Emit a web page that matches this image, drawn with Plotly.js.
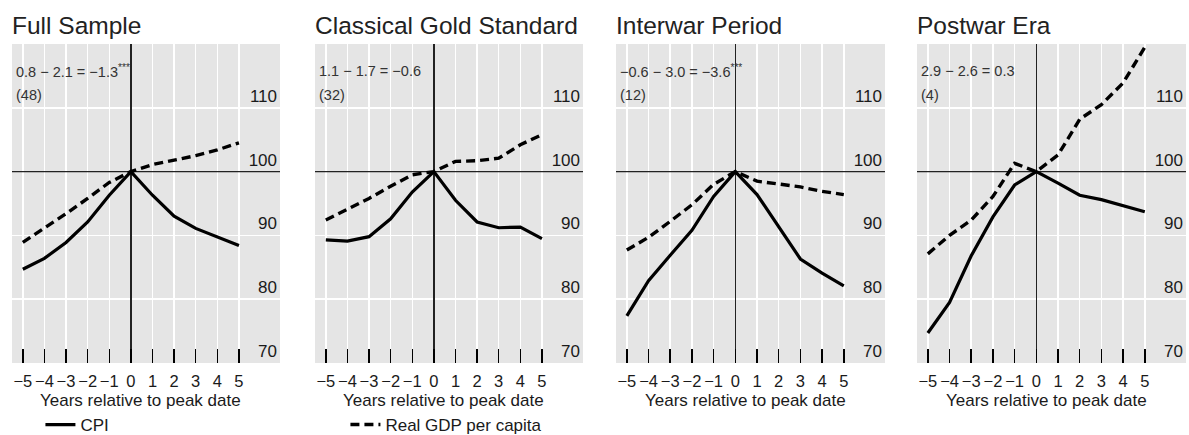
<!DOCTYPE html>
<html>
<head>
<meta charset="utf-8">
<script src="https://cdn.plot.ly/plotly-3.0.1.min.js"></script>
<style>html,body{margin:0;padding:0;background:#fff;}#chart{width:1189px;height:435px;}</style>
</head>
<body>
<div id="chart"></div>
<script>
// ---- data ----
const years = [-5, -4, -3, -2, -1, 0, 1, 2, 3, 4, 5];
const yearLabels = ["\u22125", "\u22124", "\u22123", "\u22122", "\u22121", "0", "1", "2", "3", "4", "5"];
const yTicks = [70, 80, 90, 100, 110];
const panelTitles = ["Full Sample", "Classical Gold Standard", "Interwar Period", "Postwar Era"];
const xAxisTitle = "Years relative to peak date";
const diffLabels = [
  "0.8 \u2212 2.1 = \u22121.3<sup>***</sup>",
  "1.1 \u2212 1.7 = \u22120.6",
  "\u22120.6 \u2212 3.0 = \u22123.6<sup>***</sup>",
  "2.9 \u2212 2.6 = 0.3"
];
const obsCounts = ["(48)", "(32)", "(12)", "(4)"];
const seriesNames = ["CPI", "Real GDP per capita"];

const cpiFull      = [84.7, 86.4, 88.9, 92.1, 96.3, 100, 96.3, 93.0, 91.1, 89.8, 88.4];
const gdpFull      = [88.9, 91.1, 93.4, 95.8, 98.3, 100, 101.1, 101.8, 102.5, 103.4, 104.5];
const cpiGold      = [89.3, 89.1, 89.8, 92.6, 96.8, 100, 95.5, 92.1, 91.2, 91.3, 89.5];
const gdpGold      = [92.4, 94.1, 95.8, 97.7, 99.5, 100, 101.6, 101.7, 102.1, 104.2, 105.8];
const cpiInterwar  = [77.4, 82.9, 86.9, 90.8, 96.1, 100, 96.4, 91.4, 86.3, 84.1, 82.1];
const gdpInterwar  = [87.7, 89.7, 92.2, 94.8, 98.0, 100, 98.5, 98.0, 97.6, 96.9, 96.4];
const cpiPostwar   = [74.7, 79.5, 86.8, 92.9, 97.9, 100, 98.2, 96.3, 95.6, 94.7, 93.7];
const gdpPostwar   = [87.1, 90.0, 92.4, 96.1, 101.3, 100, 102.6, 108.2, 110.5, 113.9, 119.5];

const cpiSeries = [cpiFull, cpiGold, cpiInterwar, cpiPostwar];
const gdpSeries = [gdpFull, gdpGold, gdpInterwar, gdpPostwar];
const baseIndex = 100;

// ---- layout helpers ----
const W = 1189, H = 435;
const xRange = [-5.5, 6.9];
const yRange = [70, 120];
const panelPx = [[12, 280], [315, 583], [616, 885], [917, 1186]];
const plotTop = 44, plotBottom = 363;
const FONT = "Liberation Sans, Arial, Helvetica, sans-serif";
const ink = "#1a1a1a";

const traces = [];
const layout = {
  width: W, height: H,
  margin: {l: 0, r: 0, t: 0, b: 0, autoexpand: false},
  paper_bgcolor: "#ffffff",
  plot_bgcolor: "#e5e5e5",
  font: {family: FONT, color: ink, size: 17},
  showlegend: true,
  legend: {
    orientation: "h", x: 0.034, xanchor: "left",
    yref: "container", y: 10 / H, yanchor: "middle",
    font: {size: 17, color: ink}, entrywidth: 260, entrywidthmode: "pixels",
    bgcolor: "rgba(0,0,0,0)", itemwidth: 30, tracegroupgap: 0
  },
  shapes: [],
  annotations: []
};

for (let i = 0; i < 4; i++) {
  const n = i === 0 ? "" : String(i + 1);
  const xa = "x" + n, ya = "y" + n;
  traces.push({
    x: years, y: cpiSeries[i], xaxis: xa, yaxis: ya, type: "scatter", mode: "lines",
    name: seriesNames[0], legendgroup: "cpi", showlegend: i === 0,
    line: {color: "#000000", width: 3.2}, hoverinfo: "skip"
  });
  traces.push({
    x: years, y: gdpSeries[i], xaxis: xa, yaxis: ya, type: "scatter", mode: "lines",
    name: seriesNames[1], legendgroup: "gdp", showlegend: i === 0,
    line: {color: "#000000", width: 3.4, dash: "9px,5px"}, hoverinfo: "skip"
  });
  layout["xaxis" + n] = {
    domain: [panelPx[i][0] / W, panelPx[i][1] / W],
    anchor: ya, range: xRange,
    tickmode: "array", tickvals: years, ticktext: yearLabels,
    ticks: "inside", ticklen: 14, tickwidth: 1.5, tickcolor: "#000",
    ticklabelstandoff: 6,
    showgrid: true, gridcolor: "#ffffff", gridwidth: 1.5,
    zeroline: true, zerolinecolor: "#222", zerolinewidth: 1.3,
    showline: false,
    tickfont: {size: 16.5, color: ink},
    fixedrange: true
  };
  layout["yaxis" + n] = {
    domain: [1 - plotBottom / H, 1 - plotTop / H],
    anchor: xa, side: "right", range: yRange,
    tickmode: "array", tickvals: yTicks,
    ticklabelposition: "inside top", ticks: "",
    showgrid: true, gridcolor: "#ffffff", gridwidth: 1.5,
    zeroline: false, showline: false,
    tickfont: {size: 17, color: ink},
    fixedrange: true
  };
  layout.shapes.push({
    type: "line", layer: "between", xref: xa, yref: ya,
    x0: xRange[0], x1: xRange[1], y0: baseIndex, y1: baseIndex,
    line: {color: "#222", width: 1.3}
  });
  layout.annotations.push({
    xref: xa + " domain", yref: "paper", x: 0, y: 1 - 25 / H, xshift: -2,
    xanchor: "left", yanchor: "middle", showarrow: false,
    text: panelTitles[i], font: {size: 24.5, color: "#222"}
  });
  layout.annotations.push({
    xref: xa + " domain", yref: "paper", x: 0, y: 1 - 71 / H, xshift: 2,
    xanchor: "left", yanchor: "middle", showarrow: false,
    text: diffLabels[i], font: {size: 14.5, color: "#333"}
  });
  layout.annotations.push({
    xref: xa + " domain", yref: "paper", x: 0, y: 1 - 95 / H, xshift: 2,
    xanchor: "left", yanchor: "middle", showarrow: false,
    text: obsCounts[i], font: {size: 14.5, color: "#333"}
  });
  layout.annotations.push({
    xref: xa + " domain", yref: "paper", x: 0.48, y: 1 - 389 / H,
    xanchor: "center", yanchor: "top", showarrow: false,
    text: xAxisTitle, font: {size: 17, color: ink}
  });
}

Plotly.newPlot("chart", traces, layout, {staticPlot: true, displayModeBar: false});
</script>
</body>
</html>
